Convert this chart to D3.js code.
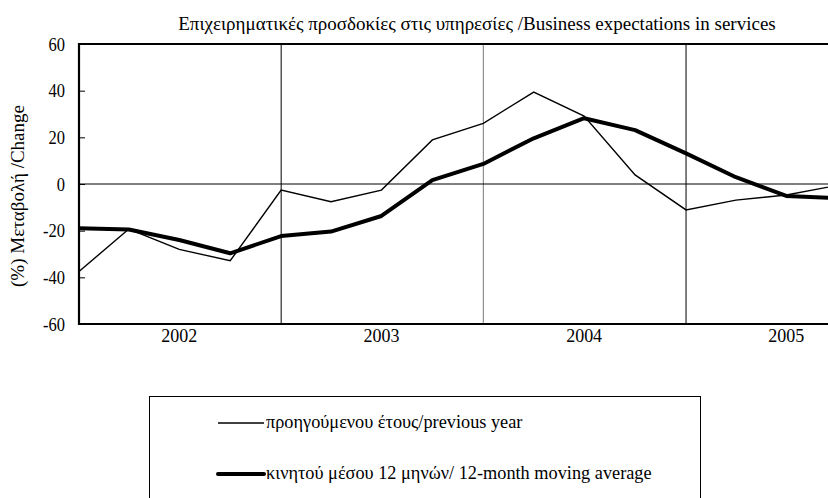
<!DOCTYPE html>
<html>
<head>
<meta charset="utf-8">
<script src="https://cdn.jsdelivr.net/npm/d3@7/dist/d3.min.js"></script>
<style>
  html, body { margin: 0; padding: 0; background: #fff; }
  svg { display: block; }
</style>
</head>
<body>
<svg id="chart" width="828" height="498" font-family="'Liberation Serif', 'DejaVu Serif', serif"></svg>
<script>
// Quarterly observations (start of each quarter)
const periods = [
  "2002-01", "2002-04", "2002-07", "2002-10",
  "2003-01", "2003-04", "2003-07", "2003-10",
  "2004-01", "2004-04", "2004-07", "2004-10",
  "2005-01", "2005-04", "2005-07", "2005-10"
];
// % change on the previous year
const previousYear = [-37.5, -19.3, -28.0, -32.9, -2.6, -7.6, -2.6, 18.9, 26.0, 39.4, 29.1, 3.9, -11.1, -6.9, -4.7, -0.6];
// 12-month moving average
const movingAverage = [-19.0, -19.5, -24.0, -29.7, -22.3, -20.4, -13.7, 1.7, 8.6, 19.6, 28.2, 23.1, 13.1, 2.9, -5.1, -6.1];

const years = ["2002", "2003", "2004", "2005"];
const yTicks = [-60, -40, -20, 0, 20, 40, 60];

const title = "Επιχειρηματικές προσδοκίες στις υπηρεσίες /Business expectations in services";
const yTitle = "(%) Μεταβολή /Change";
const seriesNames = [
  "προηγούμενου έτους/previous year",
  "κινητού μέσου 12 μηνών/ 12-month moving average"
];

const parse = d3.timeParse("%Y-%m");
const svg = d3.select("#chart");

const plotLeft = 79, plotTop = 44, plotBottom = 324;
const yearWidth = 202.3;
const x = d3.scaleTime()
  .domain([new Date(2002, 0, 1), new Date(2006, 0, 1)])
  .range([plotLeft, plotLeft + 4 * yearWidth]);
const y = d3.scaleLinear().domain([-60, 60]).range([plotBottom, plotTop]);

// Text with the tall, narrow serif look
function label(g, str, size, sy, anchor) {
  return g.append("text")
    .attr("transform", `scale(1,${sy})`)
    .attr("font-size", size)
    .attr("fill", "#000")
    .attr("text-anchor", anchor || "start")
    .text(str);
}

// Title
const tg = svg.append("g").attr("transform", `translate(477,30)`);
label(tg, title, 19, 1.0, "middle");

// Year boundary lines
const boundaries = [2003, 2004, 2005].map(yr => new Date(yr, 0, 1));
svg.append("g").selectAll("line").data(boundaries).enter().append("line")
  .attr("x1", d => x(d)).attr("x2", d => x(d))
  .attr("y1", plotTop).attr("y2", plotBottom)
  .attr("stroke", d => d.getFullYear() === 2004 ? "#777" : "#000")
  .attr("stroke-width", 1);

// Zero line
svg.append("line")
  .attr("x1", plotLeft).attr("x2", x.range()[1])
  .attr("y1", y(0)).attr("y2", y(0))
  .attr("stroke", "#000").attr("stroke-width", 1);

// Y axis with inward ticks
const yAxis = d3.axisRight(y).tickValues(yTicks).tickSize(6).tickFormat("");
const ya = svg.append("g").attr("transform", `translate(${plotLeft},0)`).call(yAxis);
ya.select(".domain").remove();
ya.selectAll(".tick line").attr("stroke", "#000").attr("stroke-width", 1);

// Y tick labels
const yl = svg.append("g");
yTicks.forEach(v => {
  const g = yl.append("g").attr("transform", `translate(65,${y(v) + 6.5})`);
  label(g, String(v), 16.5, 1.2, "end");
});

// Plot frame: left, top and bottom edges
const frame = svg.append("g").attr("stroke", "#000").attr("stroke-width", 2.2).attr("fill", "none");
frame.append("line").attr("x1", plotLeft).attr("x2", plotLeft).attr("y1", plotTop - 1.1).attr("y2", plotBottom + 1.1);
frame.append("line").attr("x1", plotLeft).attr("x2", x.range()[1]).attr("y1", plotTop).attr("y2", plotTop);
frame.append("line").attr("x1", plotLeft).attr("x2", x.range()[1]).attr("y1", plotBottom).attr("y2", plotBottom);

// Year labels at mid-year
years.forEach(yr => {
  const g = svg.append("g").attr("transform", `translate(${x(new Date(+yr, 6, 1))},342)`);
  label(g, yr, 18, 1.1, "middle");
});

// Y axis title
const yt = svg.append("g").attr("transform", `translate(24,196) rotate(-90)`);
label(yt, yTitle, 19, 1.0, "middle");

// Series lines
const line = d3.line().x((d, i) => x(parse(periods[i]))).y(d => y(d));
svg.append("path").datum(previousYear)
  .attr("d", line).attr("fill", "none").attr("stroke", "#000").attr("stroke-width", 1.4)
  .attr("stroke-linejoin", "miter");
svg.append("path").datum(movingAverage)
  .attr("d", line).attr("fill", "none").attr("stroke", "#000").attr("stroke-width", 4)
  .attr("stroke-linejoin", "round");

// Legend
const lg = svg.append("g");
lg.append("rect").attr("x", 149.5).attr("y", 396.5).attr("width", 551).attr("height", 130)
  .attr("fill", "none").attr("stroke", "#000").attr("stroke-width", 1);
const legendRows = [{ y: 423, w: 1.4 }, { y: 474, w: 4 }];
legendRows.forEach((r, i) => {
  lg.append("line").attr("x1", 218).attr("x2", 264).attr("y1", r.y).attr("y2", r.y)
    .attr("stroke", "#000").attr("stroke-width", r.w).attr("stroke-linecap", i ? "round" : "butt");
  const g = lg.append("g").attr("transform", `translate(266,${r.y + 5})`);
  label(g, seriesNames[i], 18.3, 1.05, "start");
});
</script>
</body>
</html>
